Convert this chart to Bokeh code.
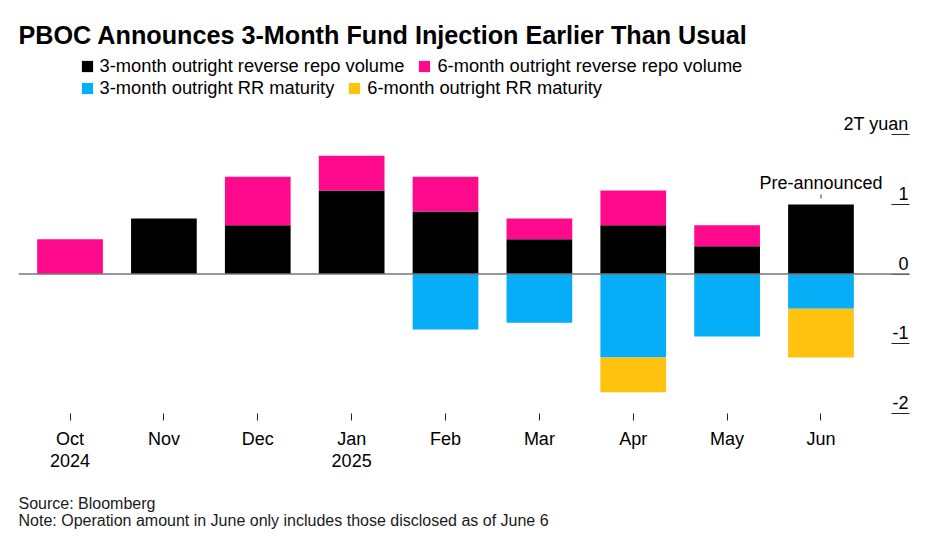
from bokeh.plotting import figure
from bokeh.models import ColumnDataSource, Range1d, FixedTicker, Legend, LegendItem, Label, Span, Title
from bokeh.core.properties import value
from bokeh.embed import file_html
from bokeh.resources import INLINE

# ---- data (trillion yuan) ----
months = ["Oct", "Nov", "Dec", "Jan", "Feb", "Mar", "Apr", "May", "Jun"]
years = ["2024", "", "", "2025", "", "", "", "", ""]
rr3_volume = [0.0, 0.8, 0.7, 1.2, 0.9, 0.5, 0.7, 0.4, 1.0]
rr6_volume = [0.5, 0.0, 0.7, 0.5, 0.5, 0.3, 0.5, 0.3, 0.0]
rr3_maturity = [0.0, 0.0, 0.0, 0.0, -0.8, -0.7, -1.2, -0.9, -0.5]
rr6_maturity = [0.0, 0.0, 0.0, 0.0, 0.0, 0.0, -0.5, 0.0, -0.7]
y_ticks = [2, 1, 0, -1, -2]
y_tick_labels = ["2T yuan", "1", "0", "-1", "-2"]

BLACK = "#000000"
PINK = "#ff0a8c"
BLUE = "#06aef8"
YELLOW = "#fec20f"
FONT = "Liberation Sans"

xs = list(range(len(months)))
source = ColumnDataSource(dict(x=xs, rr3=rr3_volume, rr6=rr6_volume,
                               mat3=rr3_maturity, mat6=rr6_maturity))

X_START, X_END = -0.549, 8.943
Y_START, Y_END = -2.007, 3.82
PX_PER_UNIT = 69.5

p = figure(width=926, height=549, output_backend="svg", toolbar_location=None, tools="",
           x_range=Range1d(X_START, X_END), y_range=Range1d(Y_START, Y_END),
           y_axis_location="right", title=None,
           min_border_left=18, min_border_right=17, min_border_top=8, min_border_bottom=136)
p.outline_line_color = None
p.xgrid.visible = False
p.ygrid.visible = False
p.background_fill_color = "white"
p.border_fill_color = "white"

pos = p.vbar_stack(["rr3", "rr6"], x="x", width=0.7, fill_color=[BLACK, PINK],
                   line_color=None, source=source)
neg = p.vbar_stack(["mat3", "mat6"], x="x", width=0.7, fill_color=[BLUE, YELLOW],
                   line_color=None, source=source)

p.add_layout(Span(location=0, dimension="width", line_color="#777777", line_width=1.5))

# right axis: ticks only, drawn inward
ya = p.yaxis[0]
ya.ticker = FixedTicker(ticks=y_ticks)
ya.major_tick_in = 18
ya.major_tick_out = 0
ya.major_tick_line_color = "#222222"
ya.minor_tick_line_color = None
ya.axis_line_color = None
ya.major_label_overrides = {t: "" for t in y_ticks}

# y tick labels sit above their tick marks
p.text(x=[X_END] * len(y_ticks), y=y_ticks, text=y_tick_labels, text_align="right",
       text_baseline="alphabetic", y_offset=-11, x_offset=-1,
       text_font=value(FONT), text_font_size="18px", text_color="#000000")

# bottom axis
xa = p.xaxis[0]
xa.ticker = FixedTicker(ticks=xs)
xa.major_label_overrides = {i: (m + ("\n" + y if y else "")) for i, (m, y) in enumerate(zip(months, years))}
xa.major_tick_in = 0
xa.major_tick_out = 7
xa.major_tick_line_color = "#222222"
xa.minor_tick_line_color = None
xa.axis_line_color = None
xa.major_label_standoff = 8
xa.major_label_text_font = FONT
xa.major_label_text_font_size = "18px"
xa.major_label_text_color = "#000000"
xa.major_label_text_line_height = 1.135

# pre-announced annotation on June bar
j = len(months) - 1
p.text(x=[j], y=[rr3_volume[j]], text=["Pre-announced"], text_align="center",
       text_baseline="alphabetic", y_offset=-22, text_font=value(FONT),
       text_font_size="18px", text_color="#000000")
p.segment(x0=[j], y0=[rr3_volume[j] + 6 / PX_PER_UNIT], x1=[j], y1=[rr3_volume[j] + 10 / PX_PER_UNIT],
          line_color="#333333", line_width=1)

# legends
def make_legend(items, loc):
    lg = Legend(items=items, orientation="horizontal", location=loc,
                glyph_width=14, glyph_height=14, label_standoff=6, spacing=13,
                padding=0, margin=0, border_line_color=None, background_fill_alpha=0,
                label_text_font=FONT, label_text_font_size="18.3px", label_text_color="#000000",
                label_height=22)
    return lg

leg1 = make_legend([LegendItem(label="3-month outright reverse repo volume", renderers=[pos[0]]),
                    LegendItem(label="6-month outright reverse repo volume", renderers=[pos[1]])],
                   (61.6, 336.2))
leg2 = make_legend([LegendItem(label="3-month outright RR maturity", renderers=[neg[0]]),
                    LegendItem(label="6-month outright RR maturity", renderers=[neg[1]])],
                   (61.6, 314.0))
p.add_layout(leg1)
p.add_layout(leg2)

# title
p.add_layout(Label(x=0, y=378.7, x_units="screen", y_units="screen",
                   text="PBOC Announces 3-Month Fund Injection Earlier Than Usual",
                   text_font=FONT, text_font_size="25.2px", text_font_style="bold",
                   text_color="#000000", text_baseline="alphabetic"))

# footnotes below the axis
p.add_layout(Title(text="Source: Bloomberg\nNote: Operation amount in June only includes those disclosed as of June 6",
                   align="left", text_font=FONT, text_font_size="16px", text_font_style="normal",
                   text_color="#1a1a1a", text_line_height=0.98, standoff=37, offset=0), "below")

open("out.html", "w").write(file_html(p, INLINE))
